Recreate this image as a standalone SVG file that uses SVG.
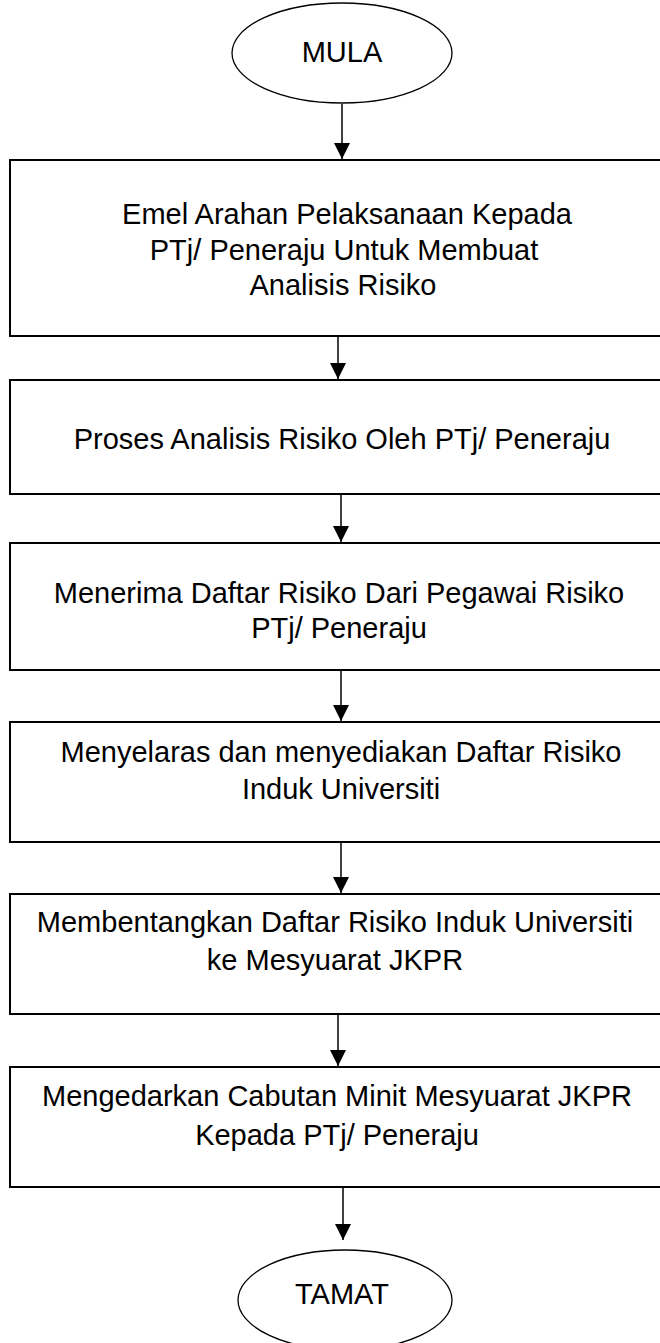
<svg xmlns="http://www.w3.org/2000/svg" width="660" height="1343" viewBox="0 0 660 1343">
<style>
.box{fill:#fff;stroke:#000;stroke-width:2}
.term{fill:#fff;stroke:#000;stroke-width:1.3}
.lbl{font-family:"Liberation Sans",Arial,sans-serif;font-size:29px;fill:#000;text-anchor:middle}
.conn{stroke:#000;stroke-width:1.5;fill:none;marker-end:url(#ah)}
</style>
<defs>
<marker id="ah" markerWidth="16" markerHeight="16" refX="16" refY="8" orient="auto" markerUnits="userSpaceOnUse">
<path d="M0,0 L16,8 L0,16 z" fill="#000"/>
</marker>
</defs>
<rect width="660" height="1343" fill="#fff"/>
<g id="connectors">
<line class="conn" x1="342" y1="104" x2="342" y2="159"/>
<line class="conn" x1="338" y1="336" x2="338" y2="379"/>
<line class="conn" x1="341" y1="494" x2="341" y2="542"/>
<line class="conn" x1="341" y1="670" x2="341" y2="721"/>
<line class="conn" x1="341" y1="842" x2="341" y2="893"/>
<line class="conn" x1="338" y1="1014" x2="338" y2="1066"/>
<line class="conn" x1="343" y1="1187" x2="343" y2="1240"/>
</g>
<g id="mula">
<ellipse class="term" cx="342" cy="53" rx="110" ry="50"/>
<text class="lbl" x="342" y="62">MULA</text>
</g>
<g id="step1">
<rect class="box" x="10" y="160" width="670" height="176"/>
<text class="lbl" x="347" y="224">Emel Arahan Pelaksanaan Kepada</text>
<text class="lbl" x="344" y="260">PTj/ Peneraju Untuk Membuat</text>
<text class="lbl" x="343" y="295">Analisis Risiko</text>
</g>
<g id="step2">
<rect class="box" x="10" y="380" width="670" height="114"/>
<text class="lbl" x="342" y="449">Proses Analisis Risiko Oleh PTj/ Peneraju</text>
</g>
<g id="step3">
<rect class="box" x="10" y="543" width="670" height="127"/>
<text class="lbl" x="339" y="603">Menerima Daftar Risiko Dari Pegawai Risiko</text>
<text class="lbl" x="339" y="638">PTj/ Peneraju</text>
</g>
<g id="step4">
<rect class="box" x="10" y="722" width="670" height="120"/>
<text class="lbl" x="341" y="762">Menyelaras dan menyediakan Daftar Risiko</text>
<text class="lbl" x="341" y="799">Induk Universiti</text>
</g>
<g id="step5">
<rect class="box" x="10" y="894" width="670" height="120"/>
<text class="lbl" x="335" y="932">Membentangkan Daftar Risiko Induk Universiti</text>
<text class="lbl" x="335" y="970">ke Mesyuarat JKPR</text>
</g>
<g id="step6">
<rect class="box" x="10" y="1067" width="670" height="120"/>
<text class="lbl" x="337" y="1106">Mengedarkan Cabutan Minit Mesyuarat JKPR</text>
<text class="lbl" x="337" y="1145">Kepada PTj/ Peneraju</text>
</g>
<g id="tamat">
<ellipse class="term" cx="345" cy="1300" rx="107" ry="50"/>
<text class="lbl" x="342" y="1304">TAMAT</text>
</g>
</svg>
